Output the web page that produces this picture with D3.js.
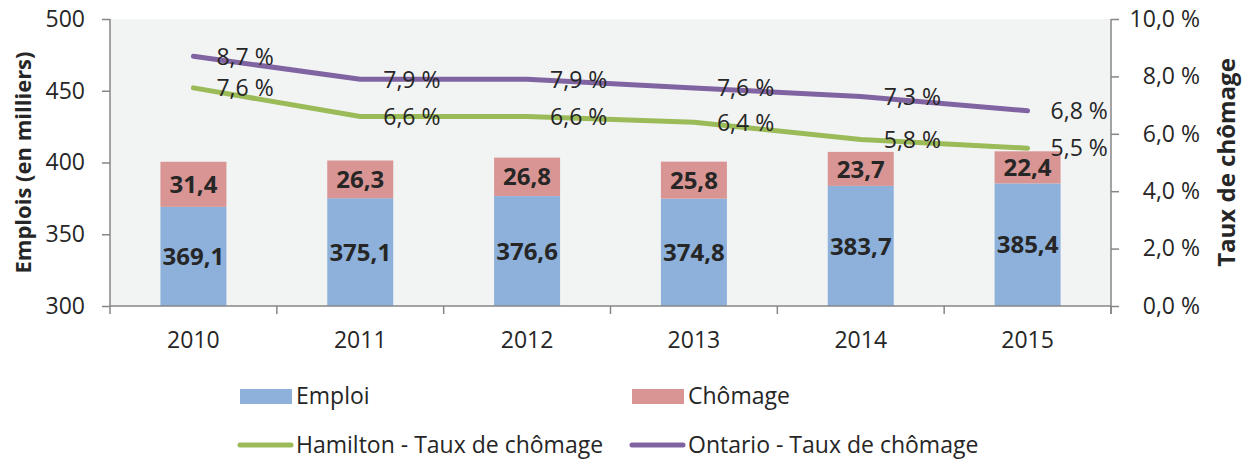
<!DOCTYPE html>
<html>
<head>
<meta charset="utf-8">
<script src="https://cdnjs.cloudflare.com/ajax/libs/d3/7.8.5/d3.min.js"></script>
<style>
  body { margin: 0; background: #fff; }
  text { font-family: "Open Sans", Lato, sans-serif; fill: #262626; }
</style>
</head>
<body>
<script>
  const years = ["2010", "2011", "2012", "2013", "2014", "2015"];
  const emploi = [369.1, 375.1, 376.6, 374.8, 383.7, 385.4];
  const chomage = [31.4, 26.3, 26.8, 25.8, 23.7, 22.4];
  const hamilton = [7.6, 6.6, 6.6, 6.4, 5.8, 5.5];
  const ontario = [8.7, 7.9, 7.9, 7.6, 7.3, 6.8];
  const leftTicks = [300, 350, 400, 450, 500];
  const rightTicks = [0, 2, 4, 6, 8, 10];

  const w = 1243, h = 459;
  const pLeft = 110, pRight = 1111, pTop = 19, pBottom = 306;
  const fs = 23;

  const fmt = v => v.toFixed(1).replace(".", ",");

  const svg = d3.select("body").append("svg")
    .attr("width", w).attr("height", h);

  const x = d3.scaleBand().domain(years).range([pLeft, pRight]).paddingInner(0).paddingOuter(0);
  const y = d3.scaleLinear().domain([300, 500]).range([pBottom, pTop]);
  const y2 = d3.scaleLinear().domain([0, 10]).range([pBottom, pTop]);

  // fond de la zone de tracé
  svg.append("rect")
    .attr("x", pLeft).attr("y", pTop)
    .attr("width", pRight - pLeft).attr("height", pBottom - pTop)
    .attr("fill", "#f2f4f4");

  const barW = 66;
  const cx = d => x(d) + x.bandwidth() / 2;

  // barres empilées
  const g = svg.append("g");
  years.forEach((yr, i) => {
    g.append("rect")
      .attr("x", cx(yr) - barW / 2).attr("y", y(emploi[i]))
      .attr("width", barW).attr("height", y(300) - y(emploi[i]))
      .attr("fill", "#8eb1dc");
    g.append("rect")
      .attr("x", cx(yr) - barW / 2).attr("y", y(emploi[i] + chomage[i]))
      .attr("width", barW).attr("height", y(emploi[i]) - y(emploi[i] + chomage[i]))
      .attr("fill", "#d89593");
    g.append("text")
      .attr("x", cx(yr)).attr("y", (y(300) + y(emploi[i])) / 2)
      .attr("dy", "0.36em").attr("text-anchor", "middle")
      .attr("font-size", 24).attr("font-weight", "bold")
      .text(fmt(emploi[i]));
    g.append("text")
      .attr("x", cx(yr)).attr("y", (y(emploi[i]) + y(emploi[i] + chomage[i])) / 2)
      .attr("dy", "0.36em").attr("text-anchor", "middle")
      .attr("font-size", 24).attr("font-weight", "bold")
      .text(fmt(chomage[i]));
  });

  // axes
  const axisColor = "#868686";
  const xAxis = svg.append("g").attr("transform", "translate(0," + pBottom + ")");
  xAxis.append("line").attr("x1", pLeft).attr("x2", pRight).attr("stroke", axisColor).attr("stroke-width", 1.5);
  d3.range(years.length + 1).forEach(k => {
    const xx = pLeft + k * x.bandwidth();
    xAxis.append("line").attr("x1", xx).attr("x2", xx).attr("y1", 0).attr("y2", 8)
      .attr("stroke", axisColor).attr("stroke-width", 1.5);
  });
  years.forEach(yr => {
    xAxis.append("text").attr("x", cx(yr)).attr("y", 42)
      .attr("text-anchor", "middle").attr("font-size", fs).text(yr);
  });

  const yAxis = d3.axisLeft(y).tickValues(leftTicks).tickSize(8).tickPadding(17);
  svg.append("g").attr("transform", "translate(" + pLeft + ",0)").call(yAxis)
    .call(s => s.selectAll("path,line").attr("stroke", axisColor).attr("stroke-width", 1.5))
    .call(s => s.select(".domain").attr("d", "M0," + pTop + "V" + pBottom))
    .call(s => s.selectAll("text").attr("font-size", fs).attr("font-family", null).attr("fill", null));

  const yAxis2 = d3.axisRight(y2).tickValues(rightTicks).tickSize(8)
    .tickFormat(v => fmt(v) + " %");
  svg.append("g").attr("transform", "translate(" + pRight + ",0)").call(yAxis2)
    .call(s => s.selectAll("path,line").attr("stroke", axisColor).attr("stroke-width", 1.5))
    .call(s => s.select(".domain").attr("d", "M0," + pTop + "V" + (pBottom + 8)))
    .call(s => s.selectAll("text").attr("font-size", fs).attr("font-family", null).attr("fill", null)
      .attr("text-anchor", "end").attr("x", 89));

  // titres des axes
  svg.append("text")
    .attr("transform", "translate(31," + (pTop + pBottom) / 2 + ") rotate(-90)")
    .attr("text-anchor", "middle").attr("font-size", 22).attr("font-weight", "bold")
    .text("Emplois (en milliers)");
  svg.append("text")
    .attr("transform", "translate(1235," + (pTop + pBottom) / 2 + ") rotate(-90)")
    .attr("text-anchor", "middle").attr("font-size", 24).attr("font-weight", "bold")
    .text("Taux de chômage");

  // courbes des taux
  const line = d3.line().x((d, i) => cx(years[i])).y(d => y2(d));
  [[hamilton, "#9bbb59"], [ontario, "#8064a2"]].forEach(([data, col]) => {
    svg.append("path").datum(data).attr("d", line)
      .attr("fill", "none").attr("stroke", col).attr("stroke-width", 5)
      .attr("stroke-linecap", "round").attr("stroke-linejoin", "round");
    data.forEach((v, i) => {
      svg.append("text").attr("x", cx(years[i]) + 23).attr("y", y2(v))
        .attr("dy", "0.36em").attr("font-size", fs).text(fmt(v) + " %");
    });
  });

  // légende
  const leg = svg.append("g");
  const items = [
    { t: "Emploi", c: "#8eb1dc", type: "rect", x: 240, y: 396 },
    { t: "Chômage", c: "#d89593", type: "rect", x: 632, y: 396 },
    { t: "Hamilton - Taux de chômage", c: "#9bbb59", type: "line", x: 240, y: 445 },
    { t: "Ontario - Taux de chômage", c: "#8064a2", type: "line", x: 632, y: 445 }
  ];
  items.forEach(it => {
    if (it.type === "rect") {
      leg.append("rect").attr("x", it.x).attr("y", it.y - 7).attr("width", 52).attr("height", 15).attr("fill", it.c);
    } else {
      leg.append("line").attr("x1", it.x).attr("x2", it.x + 51).attr("y1", it.y).attr("y2", it.y)
        .attr("stroke", it.c).attr("stroke-width", 5).attr("stroke-linecap", "round");
    }
    leg.append("text").attr("x", it.x + 56).attr("y", it.y).attr("dy", "0.36em")
      .attr("font-size", fs).text(it.t);
  });
</script>
</body>
</html>
